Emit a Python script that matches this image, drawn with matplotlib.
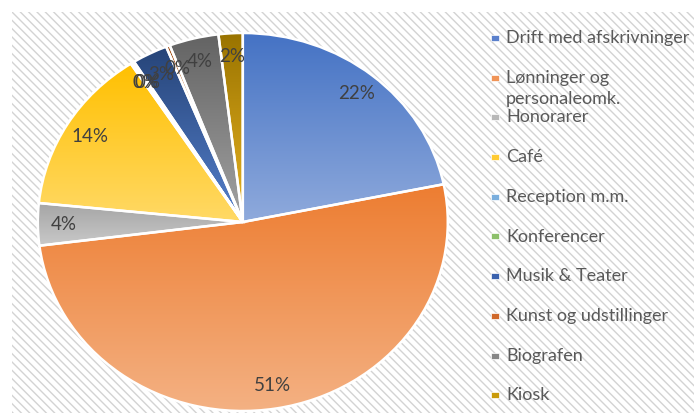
import numpy as np
import matplotlib.pyplot as plt
from matplotlib.patches import Rectangle
from matplotlib.colors import LinearSegmentedColormap

# === Data ===
categories = ["Drift med afskrivninger", "Lønninger og\npersonaleomk.", "Honorarer", "Café",
              "Reception m.m.", "Konferencer", "Musik & Teater", "Kunst og udstillinger",
              "Biografen", "Kiosk"]
shares = [21.8, 51.2, 3.6, 14.2, 0.2, 0.1, 2.8, 0.3, 3.9, 1.9]

# === Styles (Excel-like gradient fills, top -> bottom) ===
top_colors = ["#4472C4", "#ED7D31", "#A5A5A5", "#FFC000", "#5B9BD5",
              "#70AD47", "#264478", "#9E480E", "#636363", "#997300"]
bottom_colors = ["#8FAADC", "#F4B183", "#C9C9C9", "#FFD966", "#9DC3E6",
                 "#A9D18E", "#5580CC", "#E0772A", "#A3A3A3", "#E9B422"]
legend_colors = ["#5A80CC", "#F09457", "#B8B8B8", "#FFCB33", "#7AAEDD",
                 "#8CC06A", "#3A62AE", "#D0682A", "#858585", "#C99A0A"]

plt.rcParams['font.family'] = ['Lato', 'DejaVu Sans']
plt.rcParams['hatch.color'] = '#d3d3d3'
plt.rcParams['hatch.linewidth'] = 1.0

W, H = 694, 413
fig = plt.figure(figsize=(W / 100, H / 100), dpi=100)

# === Striped chart area background ===
bg = Rectangle((12 / W, 0), 1 - 12 / W, 1 - 12 / H, transform=fig.transFigure,
               facecolor='white', edgecolor='#d3d3d3', linewidth=0,
               hatch='\\\\\\\\', zorder=-1)
fig.add_artist(bg)

# === Pie (slightly stretched horizontally like the source) ===
cx, cy, rx, ry = 242.8, 222, 205, 189
pad = 1.1
ax = fig.add_axes([(cx - rx * pad) / W, (H - cy - ry * pad) / H,
                   2 * rx * pad / W, 2 * ry * pad / H])
ax.patch.set_visible(False)

wedges, texts, autotexts = ax.pie(
    shares, startangle=90, counterclock=False, autopct='%1.0f%%',
    pctdistance=0.875, wedgeprops=dict(edgecolor='white', linewidth=1.8),
    textprops=dict(color='#404040', fontsize=13.5))

grad = np.linspace(0, 1, 256).reshape(-1, 1)
for w, c0, c1 in zip(wedges, top_colors, bottom_colors):
    ext = w.get_path().get_extents()
    cmap = LinearSegmentedColormap.from_list('g', [c0, c1])
    ax.imshow(grad, cmap=cmap, extent=(ext.x0, ext.x1, ext.y0, ext.y1),
              origin='upper', aspect='auto', interpolation='bilinear',
              clip_path=w, zorder=0.5)
    w.set_facecolor('none')

ax.set_aspect('auto')
ax.set_xlim(-pad, pad)
ax.set_ylim(-pad, pad)
ax.axis('off')

# === Legend ===
for i, (lab, col) in enumerate(zip(categories, legend_colors)):
    y = 38 + i * 39.7
    fig.add_artist(Rectangle((491 / W, 1 - (y + 3) / H), 8 / W, 6 / H,
                             transform=fig.transFigure, facecolor=col,
                             edgecolor='white', linewidth=0.5))
    for k, line in enumerate(lab.split('\n')):
        fig.text(506 / W, 1 - (y + k * 21) / H, line, ha='left', va='center',
                 fontsize=13, color='#595959')

fig.savefig('out.png', dpi=100)
plt.close(fig)
